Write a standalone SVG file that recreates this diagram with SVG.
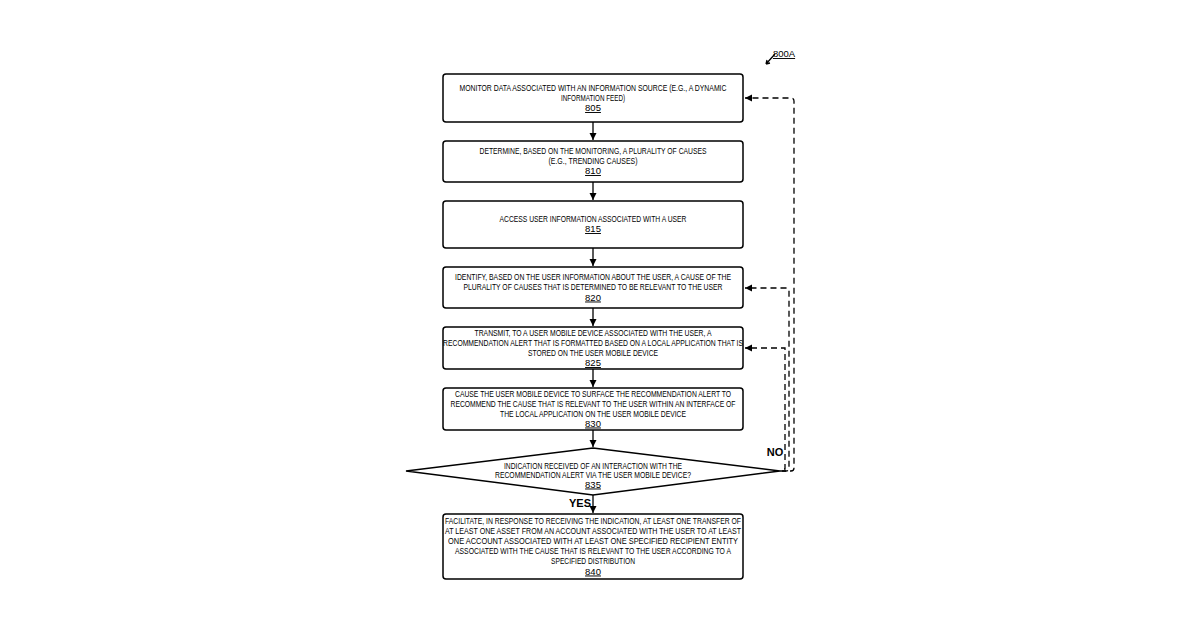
<svg xmlns="http://www.w3.org/2000/svg" width="1200" height="630" viewBox="0 0 1200 630">
<style>
.b{fill:#fff;stroke:#000;stroke-width:1.5}
text{font-family:"Liberation Sans",Arial,sans-serif;font-size:8.5px;fill:#000;text-anchor:middle}
.n{text-decoration:underline;font-size:9.5px}
.c{stroke:#000;stroke-width:1.3;fill:none}
.d{stroke:#000;stroke-width:1.3;fill:none;stroke-dasharray:6,4}
.l{font-weight:bold;font-size:11px}
</style>
<defs><marker id="a" markerWidth="8" markerHeight="8" refX="7" refY="4" orient="auto" markerUnits="userSpaceOnUse"><path d="M0,0.5 L7,4 L0,7.5z" fill="#000"/></marker></defs>
<g id="n805"><rect class="b" x="443" y="74" width="300" height="48" rx="3"/>
<text x="593" y="91" textLength="267" lengthAdjust="spacingAndGlyphs">MONITOR DATA ASSOCIATED WITH AN INFORMATION SOURCE (E.G., A DYNAMIC</text>
<text x="593" y="100.5" textLength="64" lengthAdjust="spacingAndGlyphs">INFORMATION FEED)</text>
<text class="n" x="593" y="111">805</text></g>
<g id="n810"><rect class="b" x="443" y="141" width="300" height="41" rx="3"/>
<text x="593" y="154" textLength="227" lengthAdjust="spacingAndGlyphs">DETERMINE, BASED ON THE MONITORING, A PLURALITY OF CAUSES</text>
<text x="593" y="163.5" textLength="89" lengthAdjust="spacingAndGlyphs">(E.G., TRENDING CAUSES)</text>
<text class="n" x="593" y="174">810</text></g>
<g id="n815"><rect class="b" x="443" y="201" width="300" height="47" rx="3"/>
<text x="593" y="222" textLength="187" lengthAdjust="spacingAndGlyphs">ACCESS USER INFORMATION ASSOCIATED WITH A USER</text>
<text class="n" x="593" y="232">815</text></g>
<g id="n820"><rect class="b" x="443" y="267" width="300" height="41" rx="3"/>
<text x="593" y="280" textLength="276" lengthAdjust="spacingAndGlyphs">IDENTIFY, BASED ON THE USER INFORMATION ABOUT THE USER, A CAUSE OF THE</text>
<text x="593" y="290" textLength="259" lengthAdjust="spacingAndGlyphs">PLURALITY OF CAUSES THAT IS DETERMINED TO BE RELEVANT TO THE USER</text>
<text class="n" x="593" y="300.5">820</text></g>
<g id="n825"><rect class="b" x="443" y="327" width="300" height="42" rx="3"/>
<text x="593" y="336" textLength="237" lengthAdjust="spacingAndGlyphs">TRANSMIT, TO A USER MOBILE DEVICE ASSOCIATED WITH THE USER, A</text>
<text x="593" y="346" textLength="300" lengthAdjust="spacingAndGlyphs">RECOMMENDATION ALERT THAT IS FORMATTED BASED ON A LOCAL APPLICATION THAT IS</text>
<text x="593" y="356" textLength="130" lengthAdjust="spacingAndGlyphs">STORED ON THE USER MOBILE DEVICE</text>
<text class="n" x="593" y="366">825</text></g>
<g id="n830"><rect class="b" x="443" y="388" width="300" height="42" rx="3"/>
<text x="593" y="397" textLength="276" lengthAdjust="spacingAndGlyphs">CAUSE THE USER MOBILE DEVICE TO SURFACE THE RECOMMENDATION ALERT TO</text>
<text x="593" y="407" textLength="285" lengthAdjust="spacingAndGlyphs">RECOMMEND THE CAUSE THAT IS RELEVANT TO THE USER WITHIN AN INTERFACE OF</text>
<text x="593" y="417" textLength="186" lengthAdjust="spacingAndGlyphs">THE LOCAL APPLICATION ON THE USER MOBILE DEVICE</text>
<text class="n" x="593" y="426.5">830</text></g>
<g id="n835"><polygon class="b" points="593,448 780,471 593,495 406,471"/>
<text x="593" y="469" textLength="178" lengthAdjust="spacingAndGlyphs">INDICATION RECEIVED OF AN INTERACTION WITH THE</text>
<text x="593" y="478" textLength="196" lengthAdjust="spacingAndGlyphs">RECOMMENDATION ALERT VIA THE USER MOBILE DEVICE?</text>
<text class="n" x="593" y="487.5">835</text></g>
<g id="n840"><rect class="b" x="443" y="514" width="300" height="65" rx="3"/>
<text x="593" y="524" textLength="296" lengthAdjust="spacingAndGlyphs">FACILITATE, IN RESPONSE TO RECEIVING THE INDICATION, AT LEAST ONE TRANSFER OF</text>
<text x="593" y="534" textLength="296" lengthAdjust="spacingAndGlyphs">AT LEAST ONE ASSET FROM AN ACCOUNT ASSOCIATED WITH THE USER TO AT LEAST</text>
<text x="593" y="544" textLength="290" lengthAdjust="spacingAndGlyphs">ONE ACCOUNT ASSOCIATED WITH AT LEAST ONE SPECIFIED RECIPIENT ENTITY</text>
<text x="593" y="554" textLength="276" lengthAdjust="spacingAndGlyphs">ASSOCIATED WITH THE CAUSE THAT IS RELEVANT TO THE USER ACCORDING TO A</text>
<text x="593" y="564" textLength="84" lengthAdjust="spacingAndGlyphs">SPECIFIED DISTRIBUTION</text>
<text class="n" x="593" y="574.5">840</text></g>
<g id="connectors">
<line class="c" x1="593" y1="122" x2="593" y2="140" marker-end="url(#a)"/>
<line class="c" x1="593" y1="182" x2="593" y2="200" marker-end="url(#a)"/>
<line class="c" x1="593" y1="248" x2="593" y2="266" marker-end="url(#a)"/>
<line class="c" x1="593" y1="308" x2="593" y2="326" marker-end="url(#a)"/>
<line class="c" x1="593" y1="369" x2="593" y2="387" marker-end="url(#a)"/>
<line class="c" x1="593" y1="430" x2="593" y2="447" marker-end="url(#a)"/>
<line class="c" x1="593" y1="495" x2="593" y2="513" marker-end="url(#a)"/>
<path class="d" d="M780,471 L791,471 Q794,471 794,468 L794,101 Q794,98 791,98 L745,98" marker-end="url(#a)"/>
<path class="d" d="M782,471 L786,471 Q789,471 789,468 L789,291 Q789,288 786,288 L745,288" marker-end="url(#a)"/>
<path class="d" d="M784,469 L785,469 L785,348 L745,348" marker-end="url(#a)"/>
<path class="c" d="M766,64 L775,54 M766,64 l1,-4 M766,64 l4,-1" stroke-width="1"/>
</g>
<text class="l" x="775" y="456">NO</text>
<text class="l" x="580" y="507">YES</text>
<text x="784" y="57" style="text-decoration:underline;font-size:9.5px">800A</text>
</svg>
